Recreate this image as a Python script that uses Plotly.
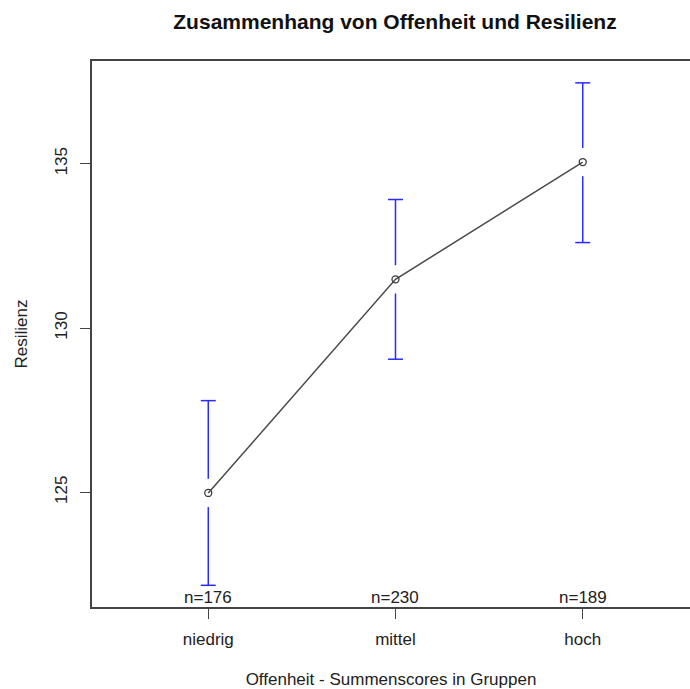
import plotly.graph_objects as go

groups = ["niedrig", "mittel", "hoch"]
means = [124.98, 131.48, 135.05]
ci_upper = [127.79, 133.91, 137.46]
ci_lower = [122.17, 129.05, 132.60]
n_labels = ["n=176", "n=230", "n=189"]
y_ticks = [125, 130, 135]

xpos = list(range(1, len(groups) + 1))
gap = 0.43     # gap (data units) between mean marker and CI bar
cap = 0.04     # half cap width (x units)

bx, by = [], []
for x, m, lo, hi in zip(xpos, means, ci_lower, ci_upper):
    bx += [x, x, None, x - cap, x + cap, None]
    by += [m + gap, hi, None, hi, hi, None]
    bx += [x, x, None, x - cap, x + cap, None]
    by += [m - gap, lo, None, lo, lo, None]

FONT = "Liberation Sans, Arial"

fig = go.Figure()
fig.add_trace(go.Scatter(x=bx, y=by, mode="lines",
                         line=dict(color="#2a2aff", width=1.5),
                         hoverinfo="skip", showlegend=False))
fig.add_trace(go.Scatter(x=xpos, y=means, mode="lines+markers",
                         line=dict(color="#4a4a4a", width=1.5),
                         marker=dict(symbol="circle-open", size=7,
                                     color="#3a3a3a", line=dict(width=1.3)),
                         showlegend=False))

for x, t in zip(xpos, n_labels):
    fig.add_annotation(x=x, y=0, xref="x", yref="paper", text=t,
                       showarrow=False, yanchor="bottom", yshift=-2,
                       font=dict(family=FONT, size=17, color="#222"))

fig.update_layout(
    width=690, height=689,
    margin=dict(l=92, r=0, t=61, b=82),
    plot_bgcolor="white", paper_bgcolor="white",
    font=dict(family=FONT, size=17, color="#222"),
    title=dict(text="<b>Zusammenhang von Offenheit und Resilienz</b>",
               x=395 / 690, xanchor="center", y=1 - 22 / 689, yanchor="middle",
               font=dict(size=21, color="#111")),
    xaxis=dict(range=[0.379, 3.573], tickvals=xpos, ticktext=groups,
               showgrid=False, zeroline=False,
               showline=True, linecolor="#444", linewidth=1.5, mirror=True,
               ticks="outside", ticklen=10, tickcolor="#444", tickwidth=1.3,
               ticklabelstandoff=6,
               tickfont=dict(size=17),
               title=dict(text="Offenheit - Summenscores in Gruppen", standoff=26,
                          font=dict(family=FONT, size=17, color="#222"))),
    yaxis=dict(range=[121.51, 138.125], tickvals=y_ticks,
               tickangle=-90,
               showgrid=False, zeroline=False,
               showline=True, linecolor="#444", linewidth=1.5, mirror=False,
               ticks="outside", ticklen=10, tickcolor="#444", tickwidth=1.3,
               ticklabelstandoff=6,
               tickfont=dict(size=17),
               title=dict(text="Resilienz", standoff=21,
                          font=dict(family=FONT, size=17, color="#222"))),
)

fig.write_html("out.html")
